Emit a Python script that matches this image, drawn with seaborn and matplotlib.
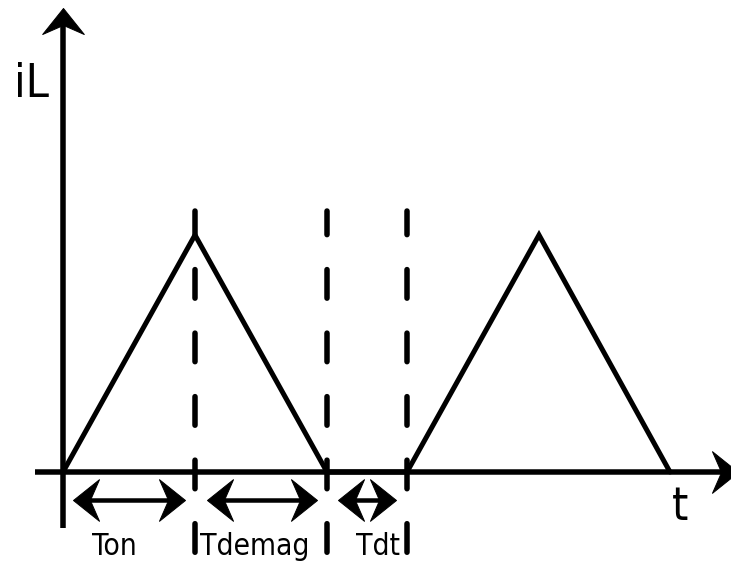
import matplotlib
matplotlib.use('Agg')
import matplotlib.pyplot as plt
import numpy as np
import pandas as pd
import seaborn as sns
from matplotlib import font_manager
from matplotlib.path import Path
from matplotlib.markers import MarkerStyle
from matplotlib.transforms import Affine2D

# waveform (time, inductor current) in pixel-like diagram units, origin at axes crossing
t_pts = [0, 132, 264, 344, 476, 607]
il_pts = [0, 237, 0, 0, 237, 0]

# switching instants marked with dashed lines
edges = [132, 264, 344]

# interval arrows (start, end) and their labels
spans = [(10, 122), (144, 254), (275, 333)]
span_labels = ['Ton', 'Tdemag', 'Tdt']
label_x = [51.5, 192, 315.5]

DPI = 100
PX = 72 / DPI  # points per pixel

sns.set_style('white')

# the labels look like DejaVu Sans Condensed; use it when it is installed
has_cond = any(f.name == 'DejaVu Sans' and f.stretch == 'condensed'
               for f in font_manager.fontManager.ttflist)
if has_cond:
    fprops = dict(family='DejaVu Sans', fontstretch='condensed')
    small, big = 21.5, 33.5
else:
    fprops = dict(family='DejaVu Sans')
    small, big = 19.5, 31

fig = plt.figure(figsize=(7.31, 5.61), dpi=DPI)
ax = fig.add_axes([0, 0, 1, 1])
ax.set_xlim(-63, 668)
ax.set_ylim(-89, 472)
ax.axis('off')


def head(angle):
    verts = [(0, 0), (-1, 0.8), (-0.65, 0), (-1, -0.8), (0, 0)]
    codes = [Path.MOVETO, Path.LINETO, Path.LINETO, Path.LINETO, Path.CLOSEPOLY]
    return MarkerStyle(Path(verts, codes), transform=Affine2D().rotate_deg(angle))


HL = 26  # arrow head length in px
ms = 2 * HL * PX


def arrow(x0, y0, x1, y1, lw, both=False):
    d = np.array([x1 - x0, y1 - y0], dtype=float)
    u = d / np.hypot(*d)
    ang = np.degrees(np.arctan2(u[1], u[0]))
    s = np.array([x0, y0]) + (u * HL * 0.55 if both else 0)
    e = np.array([x1, y1]) - u * HL * 0.55
    ax.plot([s[0], e[0]], [s[1], e[1]], color='black', lw=lw, solid_capstyle='butt')
    ax.plot([x1], [y1], marker=head(ang), ms=ms, color='black', mew=1 * PX,
            mec='black')
    if both:
        ax.plot([x0], [y0], marker=head(ang + 180), ms=ms, color='black',
                mew=1 * PX, mec='black')


# axes
arrow(0, -56, 0, 464, 5.5 * PX)
arrow(-28, 0, 675, 0, 5.5 * PX)

# waveform
df = pd.DataFrame({'t': t_pts, 'iL': il_pts})
sns.lineplot(data=df, x='t', y='iL', sort=False, color='black', lw=5 * PX,
             ax=ax, solid_joinstyle='miter')

# dashed markers
for x in edges:
    ax.plot([x, x], [261.5, -80.5], color='black', lw=5.5 * PX,
            linestyle=(0.9, (5.2, 6.35)), dash_capstyle='round')

# interval arrows and labels
for (a, b), lab, lx in zip(spans, span_labels, label_x):
    arrow(a, -28, b, -28, 4.5 * PX, both=True)
    ax.text(lx, -83, lab, fontsize=small, ha='center', va='baseline',
            color='black', **fprops)

ax.text(-32, 375, 'iL', fontsize=big, ha='center', va='baseline', color='black', **fprops)
ax.text(617, -48, 't', fontsize=big, ha='center', va='baseline', color='black', **fprops)

plt.savefig('out.png', dpi=DPI, facecolor='white')
